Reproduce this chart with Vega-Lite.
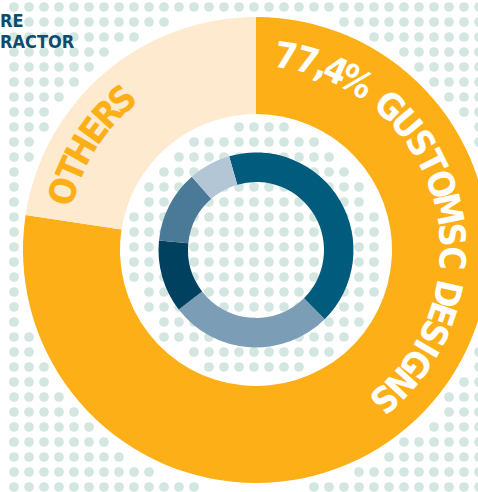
{
  "$schema": "https://vega.github.io/schema/vega-lite/v6.json",
  "width": 478,
  "height": 492,
  "autosize": {"type": "none"},
  "padding": 0,
  "background": "white",
  "config": {"view": {"stroke": null}},
  "datasets": {
    "big": [
      {"seg": "77,4% Gustomsc Designs", "v": 77.4, "o": 1},
      {"seg": "Others", "v": 22.6, "o": 2}
    ],
    "inner": [
      {"seg": "Segment 1", "v": 42, "o": 1},
      {"seg": "Segment 2", "v": 27, "o": 2},
      {"seg": "Segment 3", "v": 12, "o": 3},
      {"seg": "Segment 4", "v": 12, "o": 4},
      {"seg": "Segment 5", "v": 7, "o": 5}
    ],
    "label1": [
      {"ch": "7", "t": 8.8}, {"ch": "7", "t": 15.2}, {"ch": ",", "t": 19.8}, {"ch": "4", "t": 24}, {"ch": "%", "t": 30.8},
      {"ch": "G", "t": 43}, {"ch": "U", "t": 50}, {"ch": "S", "t": 57}, {"ch": "T", "t": 63.5}, {"ch": "O", "t": 70.5},
      {"ch": "M", "t": 78}, {"ch": "S", "t": 85.5}, {"ch": "C", "t": 92.4},
      {"ch": "D", "t": 102.9}, {"ch": "E", "t": 109}, {"ch": "S", "t": 115}, {"ch": "I", "t": 120},
      {"ch": "G", "t": 125.5}, {"ch": "N", "t": 132.5}, {"ch": "S", "t": 139.3}
    ],
    "label2": [
      {"ch": "O", "t": 287}, {"ch": "T", "t": 293.6}, {"ch": "H", "t": 299.8},
      {"ch": "E", "t": 306.4}, {"ch": "R", "t": 312.5}, {"ch": "S", "t": 318.4}
    ]
  },
  "resolve": {"scale": {"theta": "independent"}},
  "layer": [
    {
      "data": {"values": [{
        "X": [-242,-227,-212,-197,-182,-167,-152,-137,-122,-107,-92,-77,-62,-47,-32,-17,-2,13,28,43,58,73,88,103,118,133,148,163,178,193,208,223],
        "Y": [243,228,213,198,183,168,153,138,123,108,93,78,63,48,33,18,3,-12,-27,-42,-57,-72,-87,-102,-117,-132,-147,-162,-177,-192,-207,-222,-237]
      }]},
      "transform": [
        {"flatten": ["X"]},
        {"flatten": ["Y"]},
        {"filter": "sqrt(datum.X*datum.X+datum.Y*datum.Y) > 242 || sqrt(datum.X*datum.X+datum.Y*datum.Y) < 127"}
      ],
      "mark": {"type": "circle", "size": 95, "color": "#d3e6e2", "opacity": 1},
      "encoding": {
        "x": {"field": "X", "type": "quantitative", "scale": {"domain": [-256, 222], "nice": false, "zero": false}, "axis": null},
        "y": {"field": "Y", "type": "quantitative", "scale": {"domain": [-242, 250], "nice": false, "zero": false}, "axis": null}
      }
    },
    {
      "mark": {"type": "rule", "color": "#fcaf17", "strokeWidth": 2},
      "encoding": {
        "x": {"datum": -256, "type": "quantitative"},
        "x2": {"datum": -228},
        "y": {"datum": -28, "type": "quantitative"}
      }
    },
    {
      "mark": {"type": "rule", "color": "#fcaf17", "strokeWidth": 5.5},
      "encoding": {
        "x": {"datum": -0.5, "type": "quantitative"},
        "y": {"datum": -228, "type": "quantitative"},
        "y2": {"datum": -245}
      }
    },
    {
      "data": {"name": "big"},
      "mark": {"type": "arc", "radius": 233, "radius2": 136},
      "encoding": {
        "x": {"datum": 0, "type": "quantitative"},
        "y": {"datum": 0, "type": "quantitative"},
        "theta": {"field": "v", "type": "quantitative", "stack": true},
        "order": {"field": "o", "type": "quantitative"},
        "color": {"field": "seg", "type": "nominal", "legend": null,
          "scale": {"domain": ["77,4% Gustomsc Designs", "Others", "Segment 1", "Segment 2", "Segment 3", "Segment 4", "Segment 5"],
                    "range": ["#fcaf17", "#fdeacf", "#005b7d", "#7b9db6", "#00415f", "#4a7a97", "#b3c6d6"]}}
      }
    },
    {
      "data": {"name": "inner"},
      "mark": {"type": "arc", "radius": 97.5, "radius2": 68},
      "encoding": {
        "x": {"datum": 0, "type": "quantitative"},
        "y": {"datum": 0, "type": "quantitative"},
        "theta": {"field": "v", "type": "quantitative", "stack": true, "scale": {"range": [-0.2793, 6.0039]}},
        "order": {"field": "o", "type": "quantitative"},
        "color": {"field": "seg", "type": "nominal", "legend": null}
      }
    },
    {
      "data": {"name": "label1"},
      "mark": {"type": "text", "radius": 184, "font": "DejaVu Sans Condensed", "fontWeight": "bold", "fontSize": 36, "color": "#ffffff", "align": "center", "baseline": "alphabetic"},
      "encoding": {
        "x": {"datum": 0, "type": "quantitative"},
        "y": {"datum": 0, "type": "quantitative"},
        "theta": {"field": "t", "type": "quantitative", "scale": {"domain": [0, 360], "range": [0, 6.283185307]}},
        "angle": {"field": "t", "type": "quantitative", "scale": null},
        "text": {"field": "ch"}
      }
    },
    {
      "data": {"name": "label2"},
      "mark": {"type": "text", "radius": 189, "font": "DejaVu Sans Condensed", "fontWeight": "bold", "fontSize": 36, "color": "#fcaf17", "align": "center", "baseline": "alphabetic"},
      "encoding": {
        "x": {"datum": 0, "type": "quantitative"},
        "y": {"datum": 0, "type": "quantitative"},
        "theta": {"field": "t", "type": "quantitative", "scale": {"domain": [0, 360], "range": [0, 6.283185307]}},
        "angle": {"field": "t", "type": "quantitative", "scale": null},
        "text": {"field": "ch"}
      }
    },
    {
      "mark": {"type": "rule", "color": "#0b4a6b", "strokeWidth": 1.5},
      "encoding": {
        "x": {"datum": -73.3, "type": "quantitative"},
        "y": {"datum": 250, "type": "quantitative"},
        "x2": {"datum": -18.7},
        "y2": {"datum": 67}
      }
    },
    {
      "data": {"values": [{"label": "RE"}]},
      "mark": {"type": "text", "font": "DejaVu Sans Condensed", "fontWeight": "bold", "fontSize": 18, "color": "#0f4c6c", "align": "left", "baseline": "alphabetic"},
      "encoding": {
        "x": {"datum": -256, "type": "quantitative"},
        "y": {"datum": 223, "type": "quantitative"},
        "text": {"field": "label"}
      }
    },
    {
      "data": {"values": [{"label": "RACTOR"}]},
      "mark": {"type": "text", "font": "DejaVu Sans Condensed", "fontWeight": "bold", "fontSize": 18, "color": "#0f4c6c", "align": "left", "baseline": "alphabetic"},
      "encoding": {
        "x": {"datum": -256, "type": "quantitative"},
        "y": {"datum": 202, "type": "quantitative"},
        "text": {"field": "label"}
      }
    }
  ]
}
